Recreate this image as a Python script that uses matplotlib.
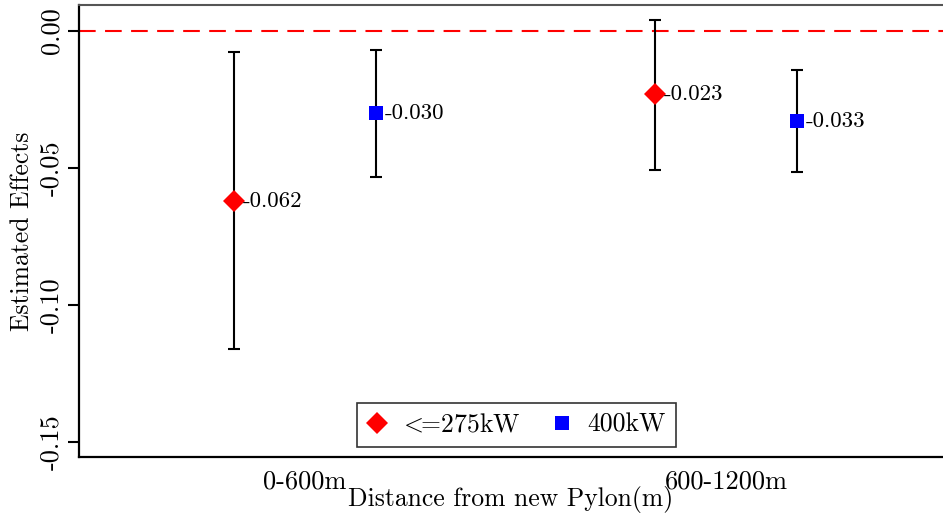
import matplotlib
matplotlib.use("Agg")
import matplotlib.pyplot as plt
import numpy as np

categories = ["0-600m", "600-1200m"]
series = ["$\\!<\\!\\!$=275kW", "400kW"]
est_small = [-0.062, -0.023]
lo_small = [-0.1161, -0.0507]
hi_small = [-0.0077, 0.0040]
est_large = [-0.030, -0.033]
lo_large = [-0.0533, -0.0515]
hi_large = [-0.0069, -0.0142]
yticks = [0.0, -0.05, -0.10, -0.15]
ytick_labels = ["0.00", "-0.05", "-0.10", "-0.15"]

plt.rcParams["font.family"] = ["cmr10", "DejaVu Serif"]
plt.rcParams["mathtext.fontset"] = "cm"
plt.rcParams["axes.unicode_minus"] = False

fig = plt.figure(figsize=(9.43, 5.18), dpi=100)
ax = fig.add_axes([79/943, 1 - 457/518, 1 - 79/943, (457-5)/518])

x = np.arange(1, len(categories) + 1)
off = 0.1686

def draw(xs, est, lo, hi, marker, color, ms, label):
    est = np.array(est); lo = np.array(lo); hi = np.array(hi)
    ax.errorbar(xs, est, yerr=[est - lo, hi - est], fmt="none", ecolor="black",
                elinewidth=1.5, capsize=4.6, capthick=1.5, zorder=2)
    ax.plot(xs, est, linestyle="none", marker=marker, color=color, ms=ms,
            markeredgewidth=0, label=label, zorder=3)
    for xi, e in zip(xs, est):
        ax.annotate(f"{e:.3f}".replace("\u2212", "-"), (xi, e), xytext=(6.5, 0),
                    textcoords="offset points", va="center", ha="left", fontsize=16.5)

ax.axhline(0, color="red", linestyle=(0, (8, 4.5)), linewidth=1.5, zorder=1)
draw(x - off, est_small, lo_small, hi_small, "D", "red", 11, series[0])
draw(x + off, est_large, lo_large, hi_large, "s", "blue", 10, series[1])

ax.set_xlim(0.463, 2.515)
ax.set_ylim(-0.1555, 0.0095)
ax.set_yticks(yticks)
ax.set_yticklabels(ytick_labels, rotation=90, va="center", fontsize=19)
ax.set_xticks(x)
ax.set_xticklabels(categories, fontsize=19)
ax.tick_params(axis="x", length=0, pad=9)
ax.tick_params(axis="y", length=8, width=1.5, direction="out", pad=3)
ax.set_ylabel("Estimated Effects", fontsize=18.5, labelpad=4)
ax.set_xlabel("Distance from new Pylon(m)", fontsize=18.5, labelpad=-5)

ax.spines["right"].set_visible(False)
ax.spines["top"].set_color("#555555")
ax.spines["top"].set_linewidth(1.5)
ax.spines["left"].set_linewidth(1.6)
ax.spines["bottom"].set_linewidth(1.6)

leg = ax.legend(loc="lower center", bbox_to_anchor=(437.5/864, 0.022), ncol=2, fontsize=18.5,
                frameon=True, fancybox=False, edgecolor="black", handlelength=0.8,
                columnspacing=1.2, handletextpad=0.6, borderpad=0.4, borderaxespad=0)
leg.get_frame().set_linewidth(1.2)

fig.savefig("out.png", dpi=100)
